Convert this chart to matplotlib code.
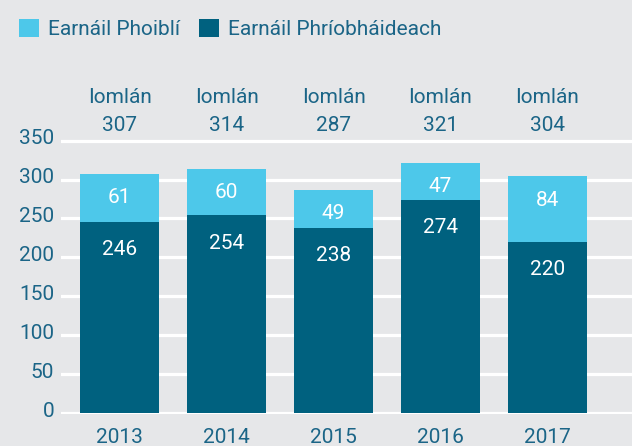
import numpy as np
import matplotlib.pyplot as plt
from matplotlib.transforms import ScaledTranslation

years = ['2013', '2014', '2015', '2016', '2017']
private = [246, 254, 238, 274, 220]
public = [61, 60, 49, 47, 84]
totals = [307, 314, 287, 321, 304]

bg = '#e6e7e9'
dark = '#00617f'
light = '#4dc8ea'
txt = '#1b6587'

plt.rcParams['font.family'] = ['Roboto', 'DejaVu Sans']

fig = plt.figure(figsize=(6.32, 4.46), dpi=100, facecolor=bg)
ax = fig.add_axes([61 / 632, 32 / 446, 1 - 61 / 632, 275 / 446], facecolor=bg)

x = np.arange(len(years))
w = 0.74
ax.bar(x, private, w, color=dark, zorder=3, label='Earnáil Phríobháideach')
ax.bar(x, public, w, bottom=private, color=light, zorder=3, label='Earnáil Phoiblí')

for i in range(len(years)):
    top = private[i] + public[i]
    ax.annotate(str(public[i]), (x[i], top), xytext=(0, -17), textcoords='offset points',
                ha='center', va='center', color='white', fontsize=15, zorder=4)
    ax.annotate(str(private[i]), (x[i], private[i]), xytext=(0, -20), textcoords='offset points',
                ha='center', va='center', color='white', fontsize=15, zorder=4)
    ax.text(x[i], 405, 'Iomlán', ha='center', va='center', color=txt, fontsize=15, clip_on=False)
    ax.text(x[i], 369, str(totals[i]), ha='center', va='center', color=txt, fontsize=15, clip_on=False)

ax.set_xlim(-0.547, 4.79)
ax.set_ylim(-1, 352)
ax.set_yticks(range(0, 351, 50))
ax.set_xticks(x)
ax.set_xticklabels(years)
ax.yaxis.grid(True, color='white', linewidth=2.3, zorder=0)
ax.set_axisbelow(True)
for s in ax.spines.values():
    s.set_visible(False)
ax.tick_params(axis='both', length=0, labelsize=15, colors=txt)
ax.tick_params(axis='y', pad=5)
ax.tick_params(axis='x', pad=10)

# y labels sit a little above their gridlines
shift = ScaledTranslation(0, 3 / 72, fig.dpi_scale_trans)
for lab in ax.get_yticklabels():
    lab.set_transform(lab.get_transform() + shift)

handles, labels = ax.get_legend_handles_labels()
fig.legend(handles[::-1], labels[::-1], loc='upper left', bbox_to_anchor=(0.0, 1.0),
           ncol=2, frameon=False, fontsize=15, labelcolor=txt, handlelength=0.95,
           handleheight=0.95, handletextpad=0.45, columnspacing=0.9)

fig.savefig('out.png', dpi=100, facecolor=bg)
